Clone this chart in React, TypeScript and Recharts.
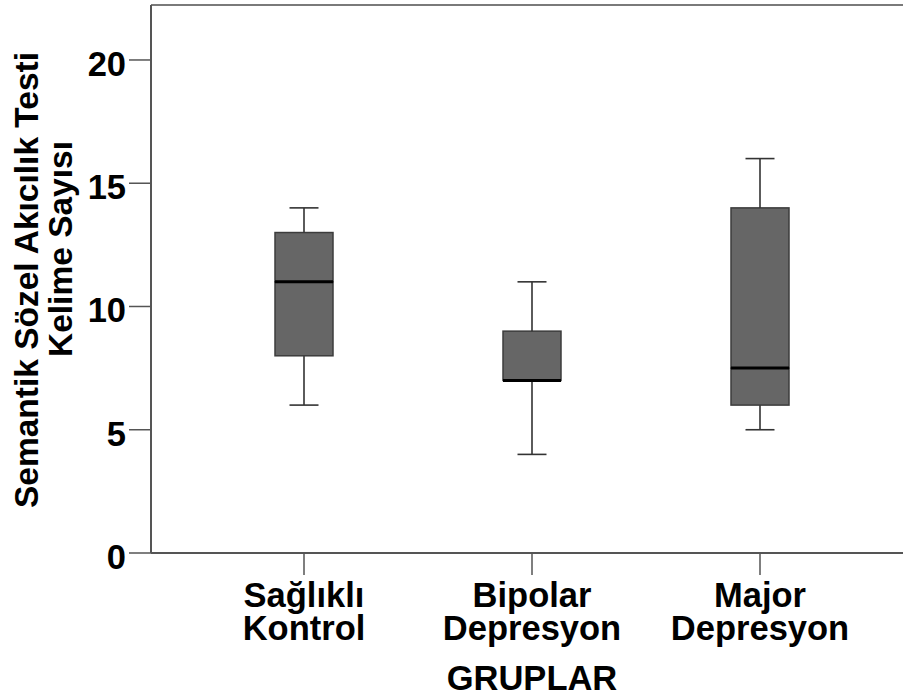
import { BarChart, Bar, XAxis, YAxis, ReferenceLine } from "recharts";

const groups = ["Sağlıklı Kontrol", "Bipolar Depresyon", "Major Depresyon"];
const whiskerLow = [6, 4, 5];
const q1 = [8, 7, 6];
const medians = [11, 7, 7.5];
const q3 = [13, 9, 14];
const whiskerHigh = [14, 11, 16];
const yTicks = [0, 5, 10, 15, 20];
const Y_MAX = 22.23;

// stacked segments: invisible base, lower whisker, box halves, upper whisker
const data = groups.map((group, i) => ({
  group,
  base: whiskerLow[i],
  lowerWhisker: q1[i] - whiskerLow[i],
  lowerBox: medians[i] - q1[i],
  upperBox: q3[i] - medians[i],
  upperWhisker: whiskerHigh[i] - q3[i],
}));

const FONT = "'Liberation Sans', Arial, sans-serif";
const AXIS = "#555555";
const BOX_FILL = "#666666";
const BOX_STROKE = "#3c3c3c";
const CAP = 29;
const FS = 34.5;

const Empty = () => <g />;

const LowerWhisker = (props: any) => {
  const { x, y, width, height } = props;
  const cx = x + width / 2;
  return (
    <g stroke="#333333" strokeWidth={1.6}>
      <line x1={cx} y1={y} x2={cx} y2={y + height} />
      <line x1={cx - CAP / 2} y1={y + height} x2={cx + CAP / 2} y2={y + height} />
    </g>
  );
};

const UpperWhisker = (props: any) => {
  const { x, y, width, height } = props;
  const cx = x + width / 2;
  return (
    <g stroke="#333333" strokeWidth={1.6}>
      <line x1={cx} y1={y} x2={cx} y2={y + height} />
      <line x1={cx - CAP / 2} y1={y} x2={cx + CAP / 2} y2={y} />
    </g>
  );
};

const LowerBox = (props: any) => {
  const { x, y, width, height } = props;
  if (!height) return <g />;
  return <rect x={x} y={y} width={width} height={height} fill={BOX_FILL} stroke={BOX_STROKE} strokeWidth={1.5} />;
};

const UpperBox = (props: any) => {
  const { x, y, width, height } = props;
  return (
    <g>
      <rect x={x} y={y} width={width} height={height} fill={BOX_FILL} stroke={BOX_STROKE} strokeWidth={1.5} />
      <line x1={x} y1={y + height} x2={x + width} y2={y + height} stroke="#000" strokeWidth={3} />
    </g>
  );
};

const YTick = (props: any) => {
  const { y, payload } = props;
  return (
    <text x={126} y={y + 16} textAnchor="end" fontFamily={FONT} fontWeight="bold" fontSize={FS} fill="#000">
      {payload.value}
    </text>
  );
};

const XTick = (props: any) => {
  const { x, payload } = props;
  const [first, second] = String(payload.value).split(" ");
  return (
    <g fontFamily={FONT} fontWeight="bold" fontSize={FS} fill="#000" textAnchor="middle">
      <text x={x} y={607}>{first}</text>
      <text x={x} y={640}>{second}</text>
    </g>
  );
};

const YTitle = () => (
  <g fontFamily={FONT} fontWeight="bold" fontSize={33.5} fill="#000" textAnchor="middle">
    <text x={38} y={280} transform="rotate(-90, 38, 280)">Semantik Sözel Akıcılık Testi</text>
    <text x={72} y={249} transform="rotate(-90, 72, 249)">Kelime Sayısı</text>
  </g>
);

const XTitle = () => (
  <text x={532} y={690} textAnchor="middle" fontFamily={FONT} fontWeight="bold" fontSize={FS} fill="#000">
    GRUPLAR
  </text>
);

export default function App() {
  return (
    <div style={{ position: "absolute", left: 0, top: 0, background: "#fff" }}>
      <BarChart width={903} height={696} data={data} margin={{ top: 5, right: 0, bottom: 0, left: 0 }}>
        <XAxis
          dataKey="group"
          height={143}
          padding={{ left: 39, right: 29 }}
          axisLine={{ stroke: AXIS, strokeWidth: 2 }}
          tickLine={{ stroke: AXIS, strokeWidth: 1.5 }}
          tickSize={22}
          tick={<XTick />}
          interval={0}
          label={{ content: <XTitle /> }}
        />
        <YAxis
          width={151}
          domain={[0, Y_MAX]}
          ticks={yTicks}
          allowDataOverflow
          axisLine={{ stroke: AXIS, strokeWidth: 2 }}
          tickLine={{ stroke: AXIS, strokeWidth: 1.5 }}
          tickSize={22}
          tick={<YTick />}
          label={{ content: <YTitle /> }}
        />
        <ReferenceLine y={Y_MAX} stroke="#7a7a7a" strokeWidth={2} />
        <Bar dataKey="base" stackId="box" barSize={58} shape={<Empty />} isAnimationActive={false} />
        <Bar dataKey="lowerWhisker" stackId="box" barSize={58} shape={<LowerWhisker />} isAnimationActive={false} />
        <Bar dataKey="lowerBox" stackId="box" barSize={58} shape={<LowerBox />} isAnimationActive={false} />
        <Bar dataKey="upperBox" stackId="box" barSize={58} shape={<UpperBox />} isAnimationActive={false} />
        <Bar dataKey="upperWhisker" stackId="box" barSize={58} shape={<UpperWhisker />} isAnimationActive={false} />
      </BarChart>
    </div>
  );
}
